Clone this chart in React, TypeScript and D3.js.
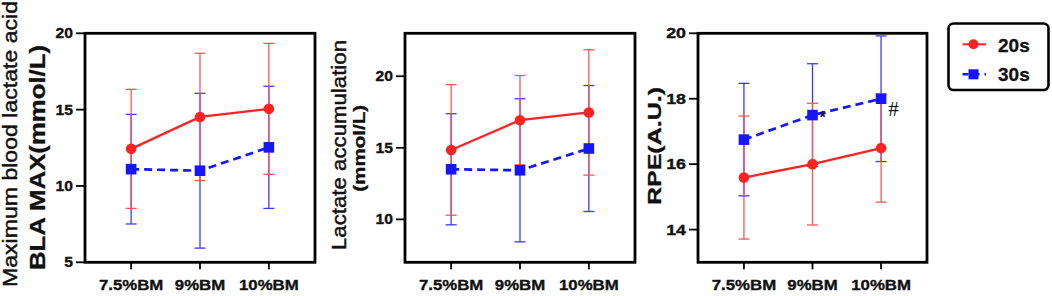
import React from "react";
import * as d3 from "d3";

const categories = ["7.5%BM", "9%BM", "10%BM"];

const blaMean20 = [12.43, 14.52, 15.05];
const blaSd20 = [3.9, 4.17, 4.29];
const blaMean30 = [11.1, 11.0, 12.53];
const blaSd30 = [3.59, 5.07, 4.0];

const lacMean20 = [14.85, 16.93, 17.47];
const lacSd20 = [4.56, 3.12, 4.38];
const lacMean30 = [13.5, 13.43, 14.95];
const lacSd30 = [3.88, 5.0, 4.4];

const rpeMean20 = [15.59, 16.0, 16.49];
const rpeSd20 = [1.88, 1.86, 1.65];
const rpeMean30 = [16.75, 17.5, 18.0];
const rpeSd30 = [1.72, 1.57, 1.92];

const blaTicks = [5, 10, 15, 20];
const lacTicks = [10, 15, 20];
const rpeTicks = [14, 16, 18, 20];

const seriesNames = ["20s", "30s"];

const RED = "#ff2222";
const RED_BAR = "#ff5555";
const BLUE = "#1515ff";
const BLUE_BAR = "#3a3aff";
const FONT = "Arial, 'Liberation Sans', Helvetica, sans-serif";

type PanelProps = {
  x0: number;
  x1: number;
  domain: [number, number];
  ticks: number[];
  m20: number[];
  s20: number[];
  m30: number[];
  s30: number[];
  tickScale: number;
  children?: React.ReactNode;
};

const TOP = 33.3;
const BOTTOM = 262.3;

function Panel({ x0, x1, domain, ticks, m20, s20, m30, s30, tickScale, children }: PanelProps) {
  const x = d3.scalePoint<string>().domain(categories).range([x0, x1]).padding(0.67);
  const y = d3.scaleLinear().domain(domain).range([BOTTOM, TOP]);
  const line = d3
    .line<number>()
    .x((_, i) => x(categories[i]) as number)
    .y((d) => y(d));
  const capW = 5.5;

  const errBars = (m: number[], s: number[], color: string) =>
    m.map((v, i) => {
      const cx = x(categories[i]) as number;
      const yt = y(v + s[i]);
      const yb = y(v - s[i]);
      return (
        <g key={i} stroke={color} strokeWidth={1.3}>
          <line x1={cx} x2={cx} y1={yt} y2={yb} />
          <line x1={cx - capW} x2={cx + capW} y1={yt} y2={yt} />
          <line x1={cx - capW} x2={cx + capW} y1={yb} y2={yb} />
        </g>
      );
    });

  return (
    <g>
      {errBars(m30, s30, BLUE_BAR)}
      {errBars(m20, s20, RED_BAR)}
      <path d={line(m20) || ""} fill="none" stroke={RED} strokeWidth={2.3} />
      <path d={line(m30) || ""} fill="none" stroke={BLUE} strokeWidth={2.7} strokeDasharray="8,5" />
      {m20.map((v, i) => (
        <circle key={"c" + i} cx={x(categories[i]) as number} cy={y(v)} r={5.3} fill={RED} />
      ))}
      {m30.map((v, i) => (
        <rect key={"r" + i} x={(x(categories[i]) as number) - 5.3} y={y(v) - 5.3} width={10.6} height={10.6} fill={BLUE} />
      ))}
      <rect x={x0} y={TOP} width={x1 - x0} height={BOTTOM - TOP} fill="none" stroke="#000" strokeWidth={2.8} />
      {ticks.map((t) => (
        <g key={t}>
          <line x1={x0 - 9} x2={x0} y1={y(t)} y2={y(t)} stroke="#000" strokeWidth={1.8} />
          <text
            transform={`translate(${x0 - 12},${y(t) + 5}) scale(${tickScale},1)`}
            textAnchor="end"
            fontFamily={FONT}
            fontWeight="bold"
            fontSize={14}
            fill="#111"
            stroke="#111"
            strokeWidth={0.35}
          >
            {t}
          </text>
        </g>
      ))}
      {categories.map((c) => (
        <g key={c}>
          <line x1={x(c) as number} x2={x(c) as number} y1={BOTTOM} y2={BOTTOM + 7} stroke="#000" strokeWidth={1.8} />
          <text
            transform={`translate(${x(c) as number},290) scale(1.12,1)`}
            textAnchor="middle"
            fontFamily={FONT}
            fontWeight="bold"
            fontSize={15}
            fill="#111"
            stroke="#111"
            strokeWidth={0.35}
          >
            {c}
          </text>
        </g>
      ))}
      {children}
    </g>
  );
}

function VTitle({ x, y, text, len, size, bold }: { x: number; y: number; text: string; len: number; size: number; bold?: boolean }) {
  return (
    <text
      transform={`translate(${x},${y}) rotate(-90)`}
      textAnchor="middle"
      fontFamily={FONT}
      fontWeight={bold ? "bold" : "normal"}
      fontSize={size}
      textLength={len}
      lengthAdjust="spacingAndGlyphs"
      fill="#111"
      stroke="#111"
      strokeWidth={bold ? 0.3 : 0.45}
    >
      {text}
    </text>
  );
}

export default function App() {
  return (
    <svg width={1052} height={296} style={{ position: "absolute", left: 0, top: 0, background: "#fff" }}>
      <rect width={1052} height={296} fill="#fff" />
      <Panel x0={85} x1={315} domain={[5, 20]} ticks={blaTicks} m20={blaMean20} s20={blaSd20} m30={blaMean30} s30={blaSd30} tickScale={1.12} />
      <Panel x0={405} x1={635} domain={[7, 23]} ticks={lacTicks} m20={lacMean20} s20={lacSd20} m30={lacMean30} s30={lacSd30} tickScale={1.12} />
      <Panel x0={698} x1={927} domain={[13, 20]} ticks={rpeTicks} m20={rpeMean20} s20={rpeSd20} m30={rpeMean30} s30={rpeSd30} tickScale={1.27}>
        <text x={822.5} y={123} textAnchor="middle" fontFamily={FONT} fontWeight="bold" fontSize={16} fill="#111">*</text>
        <text x={893.5} y={115.5} textAnchor="middle" fontFamily="'Liberation Serif', 'Times New Roman', serif" fontSize={21} fill="#111">#</text>
      </Panel>

      <VTitle x={17} y={144} text="Maximum blood lactate acid" len={286} size={20} />
      <VTitle x={45} y={157.5} text="BLA MAX(mmol/L)" len={225} size={22} bold />
      <VTitle x={345.5} y={145} text="Lactate accumulation" len={210} size={20.5} />
      <VTitle x={364.5} y={148.3} text="(mmol/L)" len={87} size={16} bold />
      <VTitle x={661} y={146} text="RPE(A.U.)" len={118} size={18.5} bold />

      <g>
        <rect x={948.5} y={23.5} width={100} height={66.5} rx={5} fill="#fff" stroke="#000" strokeWidth={2.6} />
        <line x1={962.5} x2={986} y1={44.3} y2={44.3} stroke={RED} strokeWidth={2} />
        <circle cx={973.5} cy={44.3} r={5} fill={RED} />
        <text x={998} y={51.5} fontFamily={FONT} fontWeight="bold" fontSize={19} fill="#111" stroke="#111" strokeWidth={0.3}>{seriesNames[0]}</text>
        <line x1={962.5} x2={986} y1={74.3} y2={74.3} stroke={BLUE} strokeWidth={2.4} strokeDasharray="6,5" />
        <rect x={968.5} y={69.3} width={10} height={10} fill={BLUE} />
        <text x={998} y={81} fontFamily={FONT} fontWeight="bold" fontSize={19} fill="#111" stroke="#111" strokeWidth={0.3}>{seriesNames[1]}</text>
      </g>
    </svg>
  );
}
